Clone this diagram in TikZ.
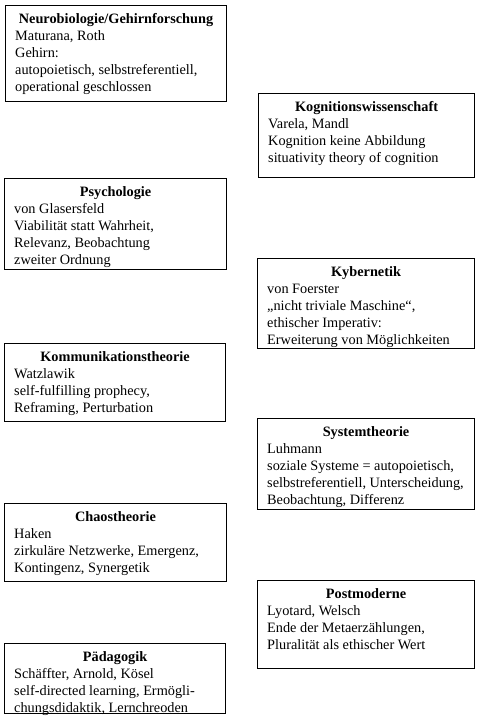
\documentclass[tikz,border=0pt]{standalone}
\usepackage{fontspec}
\setmainfont{Liberation Serif}
\usetikzlibrary{calc}
\newcommand\topicbox[7]{%
  \node[frame, minimum width=#4-#2, minimum height=#5-#3] (#1) at (#2,-#3) {};
  \node[ttl] (#1t) at ($(#1.north)+(0,-18)$) {#6};
  \node[body] (#1b) at ($(#1.north west)+(10,-23)$) {\strut #7};
}
\begin{document}
\begin{tikzpicture}[x=1pt,y=1pt,
  frame/.style={draw, line width=1.1pt, inner sep=0pt, anchor=north west},
  ttl/.style={font=\fontsize{14.3}{17}\selectfont\bfseries, anchor=base, inner sep=0pt},
  body/.style={font=\fontsize{14.3}{17}\selectfont, align=left, anchor=north west, inner sep=0pt}]
\useasboundingbox (0,0) rectangle (477,-716);
\topicbox{b1}{5}{5}{226}{101}{Neurobiologie/Gehirnforschung}{Maturana, Roth\\Gehirn:\\autopoietisch, selbstreferentiell,\\operational geschlossen}
\topicbox{b2}{258}{93}{474}{177}{Kognitionswissenschaft}{Varela, Mandl\\Kognition keine Abbildung\\situativity theory of cognition}
\topicbox{b3}{4}{178}{226}{269}{Psychologie}{von Glasersfeld\\Viabilität statt Wahrheit,\\Relevanz, Beobachtung\\zweiter Ordnung}
\topicbox{b4}{257}{258}{474}{348}{Kybernetik}{von Foerster\\„nicht triviale Maschine“,\\ethischer Imperativ:\\Erweiterung von Möglichkeiten}
\topicbox{b5}{4}{343}{225}{421}{Kommunikationstheorie}{Watzlawik\\self-fulfilling prophecy,\\Reframing, Perturbation}
\topicbox{b6}{257}{418}{474}{509}{Systemtheorie}{Luhmann\\soziale Systeme = autopoietisch,\\selbstreferentiell, Unterscheidung,\\Beobachtung, Differenz}
\topicbox{b7}{4}{503}{226}{581}{Chaostheorie}{Haken\\zirkuläre Netzwerke, Emergenz,\\Kontingenz, Synergetik}
\topicbox{b8}{257}{580}{474}{668}{Postmoderne}{Lyotard, Welsch\\Ende der Metaerzählungen,\\Pluralität als ethischer Wert}
\topicbox{b9}{4}{643}{225}{713}{Pädagogik}{Schäffter, Arnold, Kösel\\self-directed learning, Ermögli-\\chungsdidaktik, Lernchreoden}
\end{tikzpicture}
\end{document}
